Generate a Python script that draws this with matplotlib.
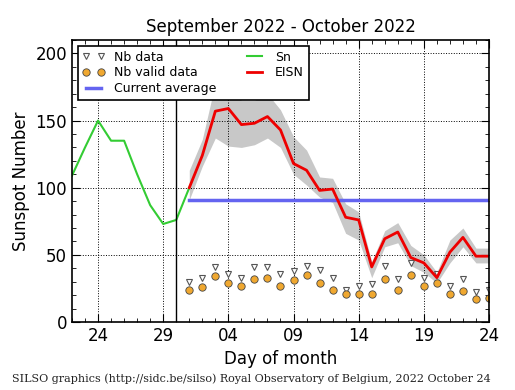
import numpy as np
import pandas as pd
import matplotlib
matplotlib.use("Agg")
import matplotlib.pyplot as plt
import matplotlib.dates as mdates
from matplotlib.ticker import MultipleLocator

# Sn (daily sunspot number) before the EISN period
sn_dates = pd.date_range("2022-09-22", "2022-10-01", freq="D")
sn_values = [109, 130, 150, 135, 135, 110, 87, 73, 76, 100]

# EISN estimate with its spread
eisn_dates = pd.date_range("2022-10-01", "2022-10-24", freq="D")
eisn_values = [100, 124, 157, 159, 147, 148, 153, 143, 118, 113, 98, 99,
               78, 76, 41, 62, 67, 48, 44, 33, 52, 63, 49, 49]
eisn_upper = [113, 136, 178, 178, 165, 165, 170, 158, 138, 128, 108, 107,
              88, 82, 45, 68, 74, 57, 50, 37, 61, 70, 55, 55]
eisn_lower = [91, 116, 137, 131, 130, 132, 137, 130, 110, 102, 93, 89,
              66, 61, 33, 56, 59, 42, 37, 29, 44, 56, 44, 44]

# station counts
nb_data = [30, 33, 41, 36, 33, 41, 41, 36, 38, 42, 39, 33,
           24, 27, 28, 42, 32, 44, 33, 36, 27, 32, 22, 24]
nb_valid = [24, 26, 34, 29, 27, 32, 33, 27, 31, 35, 29, 24,
            21, 21, 21, 32, 24, 35, 27, 29, 21, 23, 17, 18]

current_average = 91
split_date = pd.Timestamp("2022-09-30")

fig = plt.figure(figsize=(5.15, 3.9), dpi=100)
ax = fig.add_axes([0.1398, 0.1744, 0.8097, 0.723])

ax.fill_between(eisn_dates, eisn_lower, eisn_upper, color="#c8c8c8", linewidth=0)
ax.plot(eisn_dates, nb_data, linestyle="none", marker="v", markersize=4.5,
        markerfacecolor="white", markeredgecolor="#555555", markeredgewidth=0.8,
        label="Nb data")
ax.plot(eisn_dates, nb_valid, linestyle="none", marker="o", markersize=5.3,
        markerfacecolor="#f0a830", markeredgecolor="#444444", markeredgewidth=0.6,
        label="Nb valid data")
ax.plot(eisn_dates, [current_average] * len(eisn_dates), color="#6464f0",
        linewidth=2.5, label="Current average")
ax.plot(sn_dates, sn_values, color="#33cc33", linewidth=1.5, label="Sn")
ax.plot(eisn_dates, eisn_values, color="#ee0000", linewidth=2, label="EISN")
ax.axvline(split_date, color="black", linewidth=1)

ax.set_xlim(pd.Timestamp("2022-09-22"), pd.Timestamp("2022-10-24"))
ax.set_ylim(0, 210)
ax.set_xticks(pd.date_range("2022-09-24", "2022-10-24", freq="5D"))
ax.xaxis.set_major_formatter(mdates.DateFormatter("%d"))
ax.xaxis.set_minor_locator(mdates.DayLocator())
ax.yaxis.set_major_locator(MultipleLocator(50))
ax.yaxis.set_minor_locator(MultipleLocator(10))
ax.tick_params(which="both", direction="in", top=True, right=True, labelsize=12)
ax.tick_params(which="major", length=5.5)
ax.tick_params(which="minor", length=2.8)
ax.grid(True, which="major", color="black", linestyle=":", linewidth=0.7)
for s in ax.spines.values():
    s.set_linewidth(1.2)

ax.set_title("September 2022 - October 2022", fontsize=12)
ax.set_xlabel("Day of month", fontsize=12)
ax.set_ylabel("Sunspot Number", fontsize=12)

leg = ax.legend(loc="upper left", ncol=2, numpoints=2, fontsize=9,
                fancybox=False, framealpha=1, edgecolor="black",
                columnspacing=2.2, handlelength=1.8, handletextpad=0.7,
                labelspacing=0.22, borderpad=0.4, borderaxespad=0.45)
leg.get_frame().set_linewidth(1.2)

fig.text(0.023, 0.02, "SILSO graphics (http://sidc.be/silso) Royal Observatory of Belgium, 2022 October 24",
         family="DejaVu Serif", fontsize=8.0, color="#222222")

fig.savefig("out.png", dpi=100, facecolor="white")
